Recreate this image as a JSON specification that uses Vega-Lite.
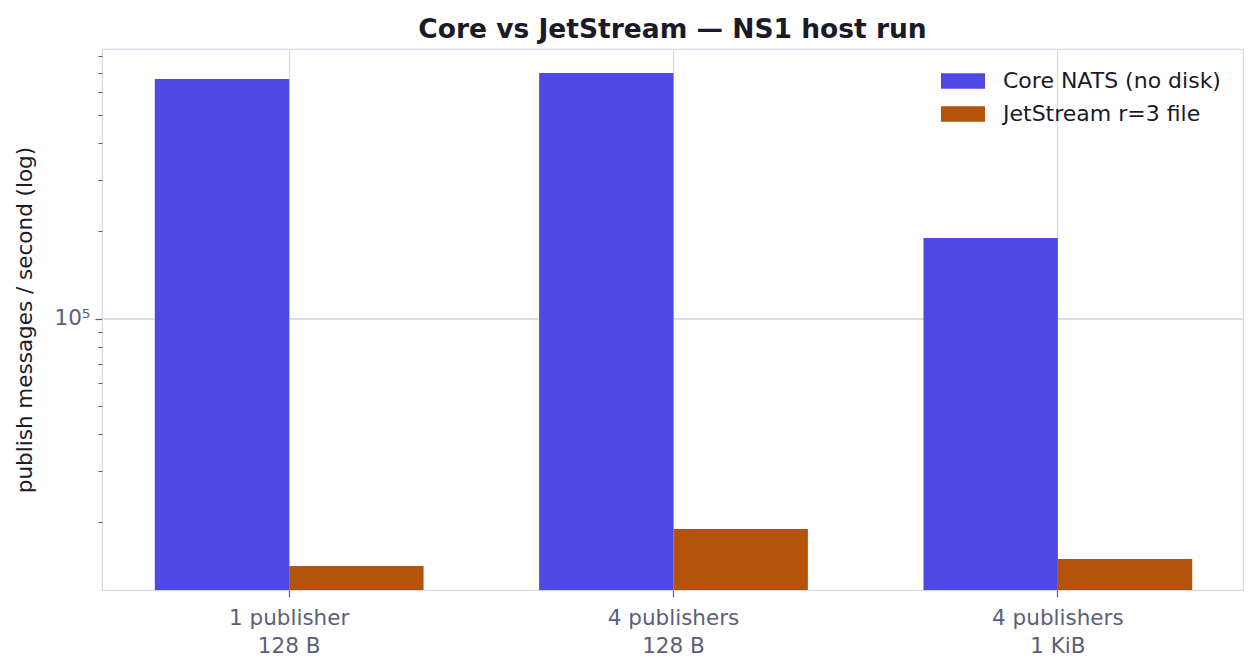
{
  "$schema": "https://vega.github.io/schema/vega-lite/v6.json",
  "width": 1141,
  "height": 541,
  "autosize": {"type": "none"},
  "padding": {"left": 102, "top": 49, "right": 16, "bottom": 82},
  "background": "white",
  "title": {
    "text": "Core vs JetStream — NS1 host run",
    "font": "DejaVu Sans",
    "fontSize": 26.5,
    "fontWeight": "bold",
    "color": "#1a1a28",
    "anchor": "middle",
    "offset": 6
  },
  "data": {
    "values": [
      {"config": "1 publisher\n128 B", "series": "Core NATS (no disk)", "rate": 665800},
      {"config": "1 publisher\n128 B", "series": "JetStream r=3 file", "rate": 14120},
      {"config": "4 publishers\n128 B", "series": "Core NATS (no disk)", "rate": 698000},
      {"config": "4 publishers\n128 B", "series": "JetStream r=3 file", "rate": 18920},
      {"config": "4 publishers\n1 KiB", "series": "Core NATS (no disk)", "rate": 189200},
      {"config": "4 publishers\n1 KiB", "series": "JetStream r=3 file", "rate": 14930}
    ]
  },
  "layer": [
    {
      "mark": {"type": "rule", "color": "#d8d8ec", "strokeWidth": 1.2},
      "encoding": {
        "y": {"datum": 100000, "type": "quantitative"}
      }
    },
    {
      "mark": {"type": "bar", "clip": true},
      "encoding": {
        "x": {
          "field": "config",
          "type": "nominal",
          "sort": null,
          "title": null,
          "scale": {"paddingInner": 0, "paddingOuter": 0, "range": [-5, 1148]},
          "axis": {
            "labelAngle": 0,
            "labelExpr": "split(datum.label, '\\n')",
            "labelFontSize": 21.5,
            "labelLineHeight": 28,
            "labelColor": "#5b5e78",
            "labelPadding": 10,
            "tickSize": 7,
            "tickColor": "#5b5e78",
            "tickWidth": 1.2,
            "domain": false,
            "grid": true,
            "bandPosition": 0.5,
            "gridColor": "#d8d8ec",
            "gridWidth": 1.2
          }
        },
        "xOffset": {
          "field": "series",
          "type": "nominal",
          "sort": ["Core NATS (no disk)", "JetStream r=3 file"],
          "scale": {"paddingInner": 0, "paddingOuter": 0.43}
        },
        "y": {
          "field": "rate",
          "type": "quantitative",
          "title": "publish messages / second (log)",
          "scale": {"type": "log", "domain": [11680, 844000], "nice": false},
          "axis": {
            "values": [20000, 30000, 40000, 50000, 60000, 70000, 80000, 90000, 100000, 200000, 300000, 400000, 500000, 600000, 700000, 800000],
            "labelExpr": "datum.value == 100000 ? '10⁵' : ''",
            "labelFontSize": 21.5,
            "labelColor": "#5b5e78",
            "labelPadding": 5,
            "tickColor": "#5b5e78",
            "tickSize": {"condition": {"test": "datum.value == 100000", "value": 7}, "value": 4},
            "tickWidth": {"condition": {"test": "datum.value == 100000", "value": 1.2}, "value": 1},
            "domain": false,
            "grid": false,
            "titleFontSize": 21.5,
            "titleFontWeight": "normal",
            "titleColor": "#1a1a28",
            "titlePadding": 18
          }
        },
        "y2": {"datum": 11680},
        "color": {
          "field": "series",
          "type": "nominal",
          "sort": ["Core NATS (no disk)", "JetStream r=3 file"],
          "scale": {"range": ["#5048e5", "#b5530c"]},
          "legend": {
            "title": null,
            "orient": "none",
            "legendX": 839,
            "legendY": 10,
            "padding": 0,
            "symbolType": "M-1,-0.35L1,-0.35L1,0.35L-1,0.35Z",
            "symbolSize": 1936,
            "symbolStrokeWidth": 0,
            "symbolOpacity": 1,
            "labelFontSize": 22,
            "labelColor": "#1a1a28",
            "labelOffset": 18,
            "labelLimit": 400,
            "rowPadding": 0
          }
        }
      }
    }
  ],
  "config": {
    "font": "DejaVu Sans",
    "view": {"stroke": "#d6d8e8", "strokeWidth": 1.2}
  }
}
